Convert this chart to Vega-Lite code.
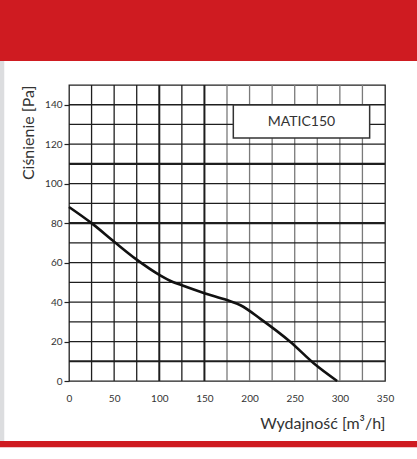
{
  "$schema": "https://vega.github.io/schema/vega-lite/v6.json",
  "autosize": "none",
  "width": 316,
  "height": 296,
  "padding": {"left": 69, "top": 85, "right": 32, "bottom": 78},
  "background": "white",
  "config": {"font": "Lato", "view": {"stroke": "#222", "strokeWidth": 1.3}},
  "layer": [
    {
      "data": {"values": [{"v": 25}, {"v": 50}, {"v": 75}, {"v": 100}, {"v": 125}, {"v": 150}, {"v": 175}, {"v": 200}, {"v": 225}, {"v": 250}, {"v": 275}, {"v": 300}, {"v": 325}]},
      "mark": {"type": "rule"},
      "encoding": {
        "x": {
          "field": "v", "type": "quantitative",
          "scale": {"domain": [0, 350], "nice": false, "zero": false},
          "axis": {
            "values": [0, 50, 100, 150, 200, 250, 300, 350],
            "labelFontSize": 10, "labelColor": "#333", "labelPadding": 12, "labelFont": "Lato",
            "labelFlush": false, "labelOverlap": false,
            "domain": false, "ticks": false, "grid": false,
            "title": "Wydajność [m³/h]", "titleAnchor": "end", "titleFontSize": 16,
            "titleFontWeight": "normal", "titleColor": "#333", "titlePadding": 12, "titleFont": "Lato"
          }
        },
        "color": {"condition": {"test": "datum.v >= 175", "value": "#7a7a7a"}, "value": "#1e1e1e"},
        "strokeWidth": {"condition": {"test": "datum.v == 100 || datum.v == 150", "value": 2}, "value": 1.3}
      }
    },
    {
      "data": {"values": [{"v": 10}, {"v": 20}, {"v": 30}, {"v": 40}, {"v": 50}, {"v": 60}, {"v": 70}, {"v": 80}, {"v": 90}, {"v": 100}, {"v": 110}, {"v": 120}, {"v": 130}, {"v": 140}]},
      "mark": {"type": "rule", "color": "#1e1e1e"},
      "encoding": {
        "y": {
          "field": "v", "type": "quantitative",
          "scale": {"domain": [0, 150], "nice": false, "zero": false},
          "axis": {
            "values": [0, 20, 40, 60, 80, 100, 120, 140],
            "labelFontSize": 10, "labelColor": "#333", "labelPadding": 2, "labelFont": "Lato",
            "labelFlush": false, "labelOverlap": false,
            "domain": false, "grid": false,
            "ticks": true, "tickSize": 5, "tickColor": "#222", "tickWidth": 1.2,
            "title": "Ciśnienie [Pa]", "titleAnchor": "end", "titleFontSize": 16,
            "titleFontWeight": "normal", "titleColor": "#333", "titlePadding": 8, "titleFont": "Lato"
          }
        },
        "strokeWidth": {"condition": {"test": "datum.v == 80 || datum.v == 10 || datum.v == 110", "value": 2.2}, "value": 1.3}
      }
    },
    {
      "data": {"values": [
        {"q": 0, "p": 88.2}, {"q": 25, "p": 80}, {"q": 50, "p": 70.6}, {"q": 75, "p": 61.5},
        {"q": 100, "p": 53.8}, {"q": 115, "p": 50.2}, {"q": 125, "p": 48.5}, {"q": 150, "p": 44.5},
        {"q": 175, "p": 41}, {"q": 190, "p": 38.4}, {"q": 212, "p": 31.5}, {"q": 245, "p": 19.9},
        {"q": 271, "p": 9}, {"q": 297, "p": 0}
      ]},
      "mark": {"type": "line", "color": "#111", "strokeWidth": 2.6, "interpolate": "monotone"},
      "encoding": {
        "x": {"field": "q", "type": "quantitative"},
        "y": {"field": "p", "type": "quantitative"}
      }
    },
    {
      "data": {"values": [{"x1": -80, "x2": 390, "y1": 162.2, "y2": 200}]},
      "mark": {"type": "rect", "color": "#cf1b21", "clip": false},
      "encoding": {
        "x": {"field": "x1", "type": "quantitative"},
        "x2": {"field": "x2"},
        "y": {"field": "y1", "type": "quantitative"},
        "y2": {"field": "y2"}
      }
    },
    {
      "data": {"values": [{"x1": -80, "x2": 390, "y1": -30.4, "y2": -33.6}]},
      "mark": {"type": "rect", "color": "#cf1b21", "clip": false},
      "encoding": {
        "x": {"field": "x1", "type": "quantitative"},
        "x2": {"field": "x2"},
        "y": {"field": "y1", "type": "quantitative"},
        "y2": {"field": "y2"}
      }
    },
    {
      "data": {"values": [{"x1": -80, "x2": -71.7, "y1": 162.2, "y2": -30.4}]},
      "mark": {"type": "rect", "color": "#dcdddf", "clip": false},
      "encoding": {
        "x": {"field": "x1", "type": "quantitative"},
        "x2": {"field": "x2"},
        "y": {"field": "y1", "type": "quantitative"},
        "y2": {"field": "y2"}
      }
    },
    {
      "data": {"values": [{"x1": 182, "x2": 333, "y1": 123.2, "y2": 139.9}]},
      "mark": {"type": "rect", "fill": "white", "stroke": "#333", "strokeWidth": 1.5},
      "encoding": {
        "x": {"field": "x1", "type": "quantitative"},
        "x2": {"field": "x2"},
        "y": {"field": "y1", "type": "quantitative"},
        "y2": {"field": "y2"}
      }
    },
    {
      "data": {"values": [{"x": 257.5, "y": 131.5, "label": "MATIC150"}]},
      "mark": {"type": "text", "fontSize": 14, "color": "#333", "font": "Lato", "align": "center", "baseline": "middle"},
      "encoding": {
        "x": {"field": "x", "type": "quantitative"},
        "y": {"field": "y", "type": "quantitative"},
        "text": {"field": "label"}
      }
    }
  ]
}
